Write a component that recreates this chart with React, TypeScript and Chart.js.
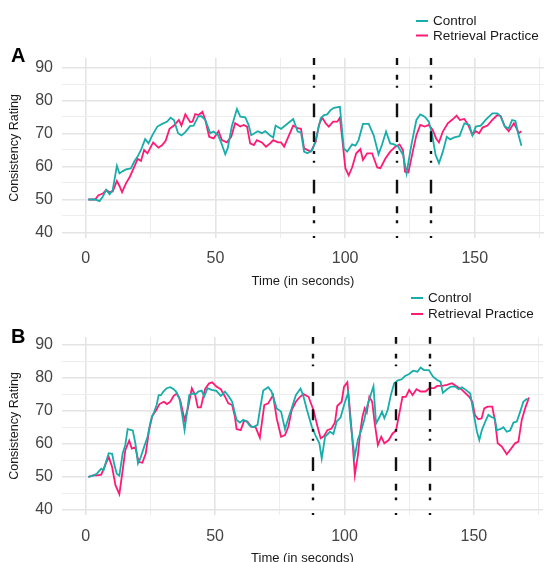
import React, { useEffect, useRef } from "react";
import { Chart, registerables } from "chart.js";

Chart.register(...registerables);

// ---------- data ----------
const SERIES_LABELS = ["Control", "Retrieval Practice"];
const SERIES_COLORS = ["#17ADAB", "#FF1A75"];
const X_TICKS = [0, 25, 50, 75, 100, 125, 150, 175];
const Y_TICKS = [40, 45, 50, 55, 60, 65, 70, 75, 80, 85, 90];
const EVENT_TIMES = [88, 120, 133];

// Panel A – Control
const aControlTime = [1, 3.6, 5.3, 6.6, 7.9, 9.2, 10.4, 12, 13, 14.3, 15.5, 17.4, 18.7, 20, 21.3, 22.9, 24.2, 25.7, 27.6, 29.5, 31.4, 32.7, 34, 35.6, 36.9, 38.4, 40.3, 41.6, 43.3, 44.5, 46.1, 48, 49.3, 51, 52.2, 53.8, 54.8, 56.3, 58.3, 59.6, 61.5, 62.8, 63.8, 66.3, 67.9, 69.2, 71.1, 72.3, 73.2, 75.3, 77.5, 80, 81.7, 83, 84.2, 85.5, 87.4, 88.7, 90.6, 91.9, 93.1, 94.4, 95.7, 98, 99.5, 100.8, 102.7, 104, 105.2, 106.9, 109.1, 111, 112.9, 114.2, 115.8, 117.4, 118.9, 120.5, 122.4, 123.7, 125.6, 127.5, 129, 130.7, 132.3, 133.6, 134.9, 136.2, 137.7, 139.2, 140.5, 142.1, 144.1, 146, 147.9, 149.1, 150.4, 152.3, 154.2, 156.8, 158.7, 160, 161.6, 163.1, 164.4, 165.7, 166.7, 168];
const aControlRating = [50, 50, 49.5, 50.9, 52.9, 51.6, 52.9, 60.2, 57.9, 58.6, 59.1, 59.4, 61.5, 63, 65, 68.3, 67, 69.5, 72.1, 72.9, 73.6, 74.8, 74.1, 70.1, 69.4, 70.4, 72.3, 72.4, 75.1, 75.3, 74.1, 70.1, 70.6, 69.5, 67.3, 63.7, 65.7, 72.1, 77.4, 75.1, 74.9, 72.6, 69.5, 70.7, 70.1, 70.7, 69.4, 68.8, 72.4, 71.4, 72.8, 74.4, 70.6, 70.3, 64.5, 64, 65, 68, 74.6, 75.6, 75.8, 77.1, 77.8, 78.1, 65.5, 64.5, 66.7, 66.3, 68, 72.9, 72.9, 69.5, 63.7, 66.5, 70.6, 67, 66.7, 66, 63.5, 57.9, 66.7, 74.1, 75.8, 75.1, 73.6, 69.5, 63.5, 61, 64.5, 69, 68.2, 68.8, 69.2, 73.1, 72.6, 69.5, 72.1, 72.4, 74.1, 76.1, 76.1, 75.1, 72.1, 71.6, 74.1, 73.8, 70.1, 66.3];

// Panel A – Retrieval Practice
const aRetrievalTime = [1, 3.6, 4.9, 6.6, 7.9, 9.2, 10.4, 12, 13, 14, 15.5, 17, 18.7, 20, 21.3, 22.5, 23.8, 26, 28, 29.5, 30.8, 32.3, 34, 35.9, 36.9, 38.4, 40.3, 41.2, 42.2, 43.5, 45, 46.1, 47.6, 49.3, 51.2, 52.5, 54.4, 56.1, 57.6, 59.6, 60.9, 62.2, 63.4, 64.8, 66, 67.9, 69.5, 71.1, 72.3, 74.1, 75.3, 76.5, 78.1, 80, 81.7, 83, 84.2, 86.8, 88.7, 89.9, 91.2, 92.5, 93.7, 95.4, 97, 98, 98.9, 100.1, 101.4, 102.7, 104.3, 105.9, 106.9, 108.5, 110.4, 112.4, 113.6, 115.6, 117.4, 119.4, 121, 122.3, 123.1, 124.4, 126.1, 127.5, 129, 130.7, 132.3, 133.8, 135.1, 136.2, 137.7, 139.6, 141.5, 143, 144.3, 146, 147.6, 149.1, 150.4, 151.7, 153, 154.9, 156.8, 158.7, 160, 161.6, 163.1, 165.1, 166.4, 167, 168];
const aRetrievalRating = [50, 50, 51.3, 51.8, 52.9, 52.2, 52.4, 55.6, 54.1, 52.2, 54.9, 56.9, 59.9, 62.3, 61.7, 65, 64, 67.3, 65.7, 66.5, 67.8, 71.4, 72.4, 74.1, 72.4, 75.8, 73.4, 73.6, 75.9, 75.6, 76.6, 74.1, 69, 68.5, 70.7, 68, 67.3, 69, 73.1, 72.1, 72.6, 72.1, 67, 66.5, 68, 67.3, 66, 67, 68, 67.3, 67.3, 66, 69, 72.4, 71.6, 71.4, 65.5, 64.5, 67.5, 72.6, 74.8, 73.1, 72.1, 73.6, 73.6, 74.8, 68.5, 59.5, 57.3, 59.7, 64, 65.3, 62, 64, 64, 59.7, 59.5, 62.5, 64.5, 66, 66.7, 65, 58.4, 58.2, 64.5, 69.5, 72.6, 72.1, 72.6, 71.1, 68.5, 67.3, 70.6, 73.1, 74.3, 75.4, 74.1, 74.4, 72.4, 69.5, 70.7, 70.1, 71.8, 72.4, 74.1, 75.6, 75.3, 72.1, 70.7, 73.1, 71.1, 70.1, 70.7];

// Panel B – Control
const bControlTime = [1, 2.8, 4.3, 6, 6.9, 7.9, 8.9, 10.2, 11.1, 12, 13, 14.3, 15.3, 16.2, 18.2, 19.2, 20.2, 21.1, 22.6, 23.9, 25.2, 26.5, 27.4, 28.2, 29.1, 30, 31.3, 32.7, 34, 34.9, 36.2, 37.2, 38.2, 39.1, 40, 41.2, 42.5, 43.5, 44.8, 45.8, 47.1, 48.6, 50.5, 52.2, 53.8, 55.3, 56.6, 58.3, 59.6, 60.9, 62.2, 63.4, 64.8, 66.4, 67.3, 68.6, 70.5, 71.8, 73.8, 75.5, 77, 78.3, 79.6, 81.2, 83, 84, 85.5, 87.4, 89, 90.3, 91.2, 92.5, 94.4, 95.7, 97, 98.5, 100.1, 101.4, 102.3, 103.9, 105.2, 106.5, 107.7, 108.6, 109.9, 111.2, 112.2, 113.5, 114.5, 115.4, 116.7, 117.9, 119.2, 120.5, 122.1, 123.4, 125, 126.5, 128.2, 129.4, 130.7, 132.6, 134.2, 135.8, 137.1, 138, 139.6, 141.2, 142.8, 144.1, 145.4, 146.9, 148.6, 149.9, 151.2, 152.1, 153.1, 154.4, 155.6, 156.9, 158, 158.9, 160.2, 161.4, 162.7, 164, 165.3, 166.6, 167.9, 169.1, 170.4, 171];
const bControlRating = [50, 50.4, 51, 52.5, 52, 54.8, 57.2, 57, 53.6, 51, 50.4, 57.2, 59.7, 64.5, 64.1, 60.2, 54.1, 55.6, 59.2, 62.2, 67.3, 69.8, 71.8, 74.8, 74.8, 75.9, 76.9, 77.2, 76.6, 75.9, 73.9, 69.3, 64.2, 69.3, 74.8, 75.3, 75.1, 75.9, 76.2, 74.4, 76.9, 76.4, 76.1, 74.6, 75.9, 74.4, 72.8, 67.3, 66.5, 67.3, 66.8, 65.5, 65.1, 65.8, 70.3, 76.2, 77.2, 75.9, 70.8, 69.8, 64.5, 67.8, 70.8, 74.8, 76.8, 74.8, 70.3, 65.2, 62.2, 60.2, 55.6, 62.2, 63.7, 63, 66.8, 68.1, 72.5, 75.5, 66.8, 56.1, 61.4, 64.2, 67.5, 71.1, 74.3, 77.5, 66.2, 68.1, 69.8, 67.8, 70.3, 74.8, 78.4, 79.2, 79.6, 80.6, 81.2, 82.2, 81.9, 83.2, 82.4, 82.4, 80.4, 79.4, 78.9, 75.5, 76.6, 77.4, 77.4, 76.6, 77.2, 76.4, 75.3, 69.3, 63.7, 61.2, 64.2, 66.8, 68.8, 68.1, 67.8, 64.2, 64.5, 65.1, 63.7, 64.1, 66.5, 66.8, 69.8, 72.8, 73.6, 73.4];

// Panel B – Retrieval Practice
const bRetrievalTime = [1, 2.8, 4.3, 6, 7.2, 8.9, 10.2, 11.5, 13, 14.3, 15.3, 16.8, 17.8, 19.2, 20.4, 21.9, 23.2, 24.5, 25.7, 27.3, 28.5, 30.2, 31.4, 32.7, 34, 35.2, 36.5, 38.2, 39.5, 41, 42.3, 43.3, 44.5, 46.1, 47.6, 48.9, 50.5, 52.2, 53.8, 55.1, 56.6, 57.6, 58.3, 59.9, 61.2, 62.5, 64, 65.6, 67.3, 69, 70.5, 72.4, 73.8, 75.5, 77, 78.3, 79.6, 81.2, 82.8, 84.2, 86.1, 88, 89.6, 90.8, 92.1, 93.4, 95, 96.3, 97.2, 98.9, 99.8, 101.1, 102.1, 103.1, 104, 105.2, 106.1, 106.9, 107.8, 108.6, 109.6, 110.7, 111.6, 112.9, 114.2, 115.4, 117.1, 118.6, 119.9, 121.2, 122.4, 123.7, 125, 126.3, 127.8, 129.4, 131.3, 132.8, 134.6, 135.8, 137.7, 139.6, 141.5, 143.4, 145.1, 146.6, 148.2, 149.4, 150.4, 151.7, 153, 154, 155.3, 157.1, 158.2, 159.2, 160.8, 162.7, 164.4, 165.9, 167.2, 168.5, 169.8, 171.3];
const bRetrievalRating = [50, 50.5, 50.5, 50.7, 53, 56.1, 53, 47.5, 44.8, 52.1, 58.1, 61, 58.6, 59, 54.6, 54.3, 57.1, 64.2, 68.5, 70.3, 72.1, 72.8, 72.1, 72.8, 74.6, 75.3, 73.3, 67.3, 70.8, 76.9, 74.8, 71.1, 71.1, 76.6, 78.3, 78.7, 77.4, 76.6, 74.4, 72.3, 71.8, 68.5, 64.5, 64.2, 67, 66.8, 65.2, 65.2, 61.9, 71.8, 72.3, 74.8, 67.8, 62.2, 62.7, 65.2, 70.3, 72.8, 74.3, 75.1, 74.3, 70.3, 65.2, 61.7, 62.4, 64.2, 64.7, 66.5, 71.5, 72.8, 77.3, 78.7, 70.3, 60.7, 50.6, 56.7, 63.7, 68.1, 70.8, 69.5, 74.3, 72.8, 66.8, 59.7, 62.2, 60.2, 61.2, 63.2, 64, 69.3, 74.3, 74.3, 76.4, 74.8, 76.6, 75.9, 75.9, 76.9, 76.9, 77.6, 77.6, 77.9, 78.4, 77.4, 76.6, 75.5, 74.3, 72.8, 68.8, 67.5, 67.8, 70.8, 71.3, 71.3, 66.8, 60.2, 59.2, 56.9, 58.6, 60.2, 60.7, 67.3, 70.8, 74.1];

// ---------- styling ----------
const FONT = "'Liberation Sans', Arial, Helvetica, sans-serif";
// dash pattern of the event lines (for a 182px tall panel)
const DASH = [7, 10, 5, 6, 2, 16, 14, 14, 11, 9, 3, 7, 2, 17, 14, 13, 7, 7, 3, 13, 2, 5];

type PanelCfg = {
  letter: string;
  letterY: number;
  top: number;
  height: number;
  padTop: number;
  xAxisHeight: number;
  yMin: number;
  yMax: number;
  legendX: number;
  legendY: number[];
  tickPad: number;
  titlePad: number;
  times: number[][];
  ratings: number[][];
};

const PANELS: PanelCfg[] = [
  {
    letter: "A",
    letterY: 62,
    top: 0,
    height: 295,
    padTop: 58,
    xAxisHeight: 57,
    yMin: 38.33,
    yMax: 92.88,
    legendX: 416,
    legendY: [21, 35.5],
    tickPad: 11.4,
    titlePad: 6.2,
    times: [aControlTime, aRetrievalTime],
    ratings: [aControlRating, aRetrievalRating],
  },
  {
    letter: "B",
    letterY: 58,
    top: 285,
    height: 290,
    padTop: 52,
    xAxisHeight: 60,
    yMin: 38.48,
    yMax: 92.42,
    legendX: 411,
    legendY: [13, 29],
    tickPad: 12.4,
    titlePad: 9.2,
    times: [bControlTime, bRetrievalTime],
    ratings: [bControlRating, bRetrievalRating],
  },
];

const overlayPlugin = {
  id: "overlay",
  afterDatasetsDraw(chart: any) {
    const { ctx, chartArea, scales } = chart;
    const k = (chartArea.bottom - chartArea.top) / 182;
    ctx.save();
    ctx.beginPath();
    ctx.rect(chartArea.left, chartArea.top, chartArea.right - chartArea.left, chartArea.bottom - chartArea.top);
    ctx.clip();
    ctx.strokeStyle = "#111111";
    ctx.lineWidth = 2.4;
    ctx.setLineDash(DASH.map((d) => d * k));
    for (const t of EVENT_TIMES) {
      const x = Math.round(scales.x.getPixelForValue(t));
      ctx.beginPath();
      ctx.moveTo(x, chartArea.top);
      ctx.lineTo(x, chartArea.bottom);
      ctx.stroke();
    }
    ctx.restore();
  },
  afterDraw(chart: any, _args: any, opts: any) {
    const { ctx } = chart;
    ctx.save();
    // panel letter
    ctx.fillStyle = "#000000";
    ctx.font = `bold 20px ${FONT}`;
    ctx.textAlign = "left";
    ctx.textBaseline = "alphabetic";
    ctx.fillText(opts.letter, 11, opts.letterY);
    // legend
    ctx.font = `13.5px ${FONT}`;
    ctx.textBaseline = "middle";
    chart.data.datasets.forEach((ds: any, i: number) => {
      const y = opts.legendY[i];
      ctx.strokeStyle = ds.borderColor;
      ctx.lineWidth = 2;
      ctx.beginPath();
      ctx.moveTo(opts.legendX, y);
      ctx.lineTo(opts.legendX + 12, y);
      ctx.stroke();
      ctx.fillStyle = "#1a1a1a";
      ctx.fillText(ds.label, opts.legendX + 17, y + 0.5);
    });
    ctx.restore();
  },
};

function Panel({ cfg }: { cfg: PanelCfg }) {
  const ref = useRef<HTMLCanvasElement>(null);
  useEffect(() => {
    if (!ref.current) return;
    const datasets = SERIES_LABELS.map((label, i) => ({
      label,
      data: cfg.times[i].map((t, j) => ({ x: t, y: cfg.ratings[i][j] })),
      borderColor: SERIES_COLORS[i],
      backgroundColor: SERIES_COLORS[i],
      borderWidth: 1.8,
      pointRadius: 0,
      tension: 0,
      fill: false,
    }));
    const chart = new Chart(ref.current, {
      type: "line",
      data: { datasets },
      plugins: [overlayPlugin],
      options: {
        animation: false,
        responsive: false,
        maintainAspectRatio: false,
        layout: { padding: { top: cfg.padTop, right: 2, left: 0, bottom: 0 } },
        plugins: {
          legend: { display: false },
          tooltip: { enabled: false },
          overlay: { letter: cfg.letter, letterY: cfg.letterY, legendX: cfg.legendX, legendY: cfg.legendY },
        } as any,
        scales: {
          x: {
            type: "linear",
            min: -9.16,
            max: 176.7,
            afterBuildTicks: (scale: any) => {
              scale.ticks = X_TICKS.map((v) => ({ value: v }));
            },
            afterFit: (scale: any) => {
              scale.height = cfg.xAxisHeight;
            },
            border: { display: false },
            grid: {
              drawTicks: false,
              color: (c: any) => (c.tick && c.tick.value % 50 === 0 ? "#E4E4E4" : "#EDEDED"),
              lineWidth: (c: any) => (c.tick && c.tick.value % 50 === 0 ? 1.6 : 1),
            },
            ticks: {
              autoSkip: false,
              maxRotation: 0,
              padding: cfg.tickPad,
              color: "#444444",
              font: { family: FONT, size: 16 },
              callback: (v: any) => (Number(v) % 50 === 0 ? String(v) : ""),
            },
            title: {
              display: true,
              text: "Time (in seconds)",
              color: "#1a1a1a",
              font: { family: FONT, size: 13 },
              padding: { top: 0, bottom: cfg.titlePad },
            },
          },
          y: {
            type: "linear",
            min: cfg.yMin,
            max: cfg.yMax,
            afterBuildTicks: (scale: any) => {
              scale.ticks = Y_TICKS.map((v) => ({ value: v }));
            },
            afterFit: (scale: any) => {
              scale.width = 62;
            },
            border: { display: false },
            grid: {
              drawTicks: false,
              color: (c: any) => (c.tick && c.tick.value % 10 === 0 ? "#E4E4E4" : "#EDEDED"),
              lineWidth: (c: any) => (c.tick && c.tick.value % 10 === 0 ? 1.6 : 1),
            },
            ticks: {
              autoSkip: false,
              padding: 9,
              color: "#444444",
              font: { family: FONT, size: 16 },
              callback: (v: any) => (Number(v) % 10 === 0 ? String(v) : ""),
            },
            title: {
              display: true,
              text: "Consistency Rating",
              color: "#1a1a1a",
              font: { family: FONT, size: 12.5 },
              padding: { top: 7.5, bottom: 0 },
            },
          },
        },
      } as any,
    });
    return () => chart.destroy();
  }, [cfg]);
  return (
    <canvas
      ref={ref}
      width={551}
      height={cfg.height}
      style={{ position: "absolute", left: 0, top: cfg.top, display: "block", width: 551, height: cfg.height }}
    />
  );
}

export default function App() {
  return (
    <div
      style={{
        position: "absolute",
        left: 0,
        top: 0,
        width: 551,
        height: 562,
        overflow: "hidden",
        background: "#ffffff",
      }}
    >
      {PANELS.map((p) => (
        <Panel key={p.letter} cfg={p} />
      ))}
    </div>
  );
}
